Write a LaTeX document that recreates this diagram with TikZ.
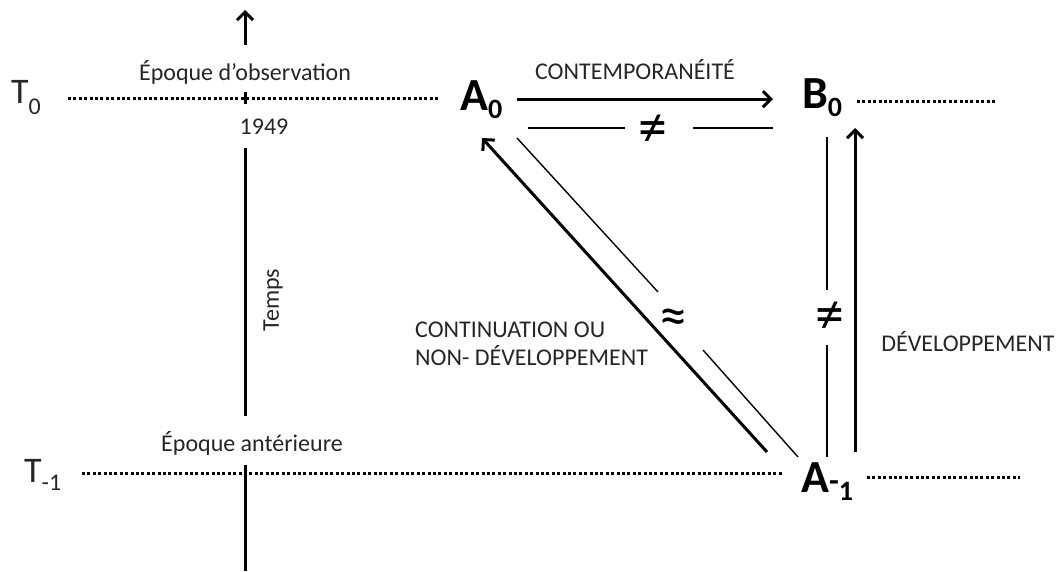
\documentclass[tikz,border=0pt]{standalone}
\usepackage{fontspec}
\setmainfont{Carlito}
\usetikzlibrary{arrows.meta}
\begin{document}
\begin{tikzpicture}[x=1pt,y=-1pt,
  lbl/.style={inner sep=0pt, font=\fontsize{24}{28}\selectfont, text=black!85},
  big/.style={inner sep=0pt, font=\fontsize{46}{48}\selectfont\bfseries},
  tlab/.style={inner sep=0pt, font=\fontsize{36}{38}\selectfont, text=black!85},
  tharrow/.style={line width=3pt, -{Straight Barb[length=8pt,width=16pt]}},
  axisline/.style={line width=3pt},
  thinline/.style={line width=1.4pt},
  dotline/.style={line width=3pt, dash pattern=on 3pt off 2.4pt},
  rel/.style={inner sep=0pt, font=\fontsize{58}{60}\selectfont},
]
\useasboundingbox (0,0) rectangle (1062,571);

% time labels
\node[tlab, anchor=base west] (T0) at (11,103) {T\raisebox{-11pt}{\fontsize{24}{26}\selectfont 0}};
\node[tlab, anchor=base west] (Tm1) at (24,482) {T\raisebox{-8pt}{\fontsize{24}{26}\selectfont -1}};

% main nodes
\node[big, anchor=base west] (A0) at (460,110) {A\raisebox{-8pt}{\fontsize{28}{30}\selectfont 0}};
\node[big, anchor=base west] (B0) at (802,108) {B\raisebox{-8pt}{\fontsize{28}{30}\selectfont 0}};
\node[big, anchor=base west] (Am1) at (801,492) {A{\fontsize{32}{34}\selectfont\raisebox{1pt}{-}}\raisebox{-8pt}{\fontsize{28}{30}\selectfont 1}};

% texts
\node[lbl] (obs) at (245,72) {Époque d’observation};
\node[lbl] (y1949) at (264,127) {1949};
\node[lbl, rotate=90] (temps) at (273,300) {Temps};
\node[lbl] (ant) at (252,443) {Époque antérieure};
\node[lbl] (contemp) at (635,70) {CONTEMPORANÉITÉ};
\node[lbl, align=left, anchor=west] (cont) at (415,344) {CONTINUATION OU\\NON- DÉVELOPPEMENT};
\node[lbl] (dev) at (968,342) {DÉVELOPPEMENT};

% relation symbols
\node[rel] (ne1) at (653,131) {≠};
\node[rel] (ne2) at (830,318) {≠};
\node[rel, font=\fontsize{56}{58}\selectfont] (approx) at (673,322) {≈};

% time axis
\coordinate (ax0) at (245,571);
\coordinate (ax1) at (245,465);
\coordinate (ax2) at (245,416);
\coordinate (ax3) at (245,148);
\coordinate (ax4) at (245,45);
\coordinate (ax5) at (245,10);
\coordinate (tk1) at (245,92);
\coordinate (tk2) at (245,104);
\draw[axisline] (ax0) -- (ax1);
\draw[axisline] (ax2) -- (ax3);
\draw[tharrow] (ax4) -- (ax5);
\draw[axisline] (tk1) -- (tk2);

% dotted time lines
\coordinate (d0a) at (68,98);
\coordinate (d0b) at (440,98);
\coordinate (d1a) at (857,101);
\coordinate (d1b) at (997,101);
\coordinate (d2a) at (82,473);
\coordinate (d2b) at (782,473);
\coordinate (d3a) at (867,477);
\coordinate (d3b) at (1020,477);
\draw[dotline] (d0a) -- (d0b);
\draw[dotline] (d1a) -- (d1b);
\draw[dotline] (d2a) -- (d2b);
\draw[dotline] (d3a) -- (d3b);

% contemporaneity arrow A0 -> B0
\draw[tharrow, shorten <=15pt, shorten >=29pt] (A0.east) -- (B0.west |- A0.east);

% thin "different" line below
\coordinate (n1a) at (528,128);
\coordinate (n1b) at (625,128);
\coordinate (n1c) at (693,128);
\coordinate (n1d) at (773,128);
\draw[thinline] (n1a) -- (n1b);
\draw[thinline] (n1c) -- (n1d);

% continuation arrow A-1 -> A0
\coordinate (cA) at (767,452);
\coordinate (cB) at (482,138);
\draw[tharrow] (cA) -- (cB);

% thin "approx" line
\coordinate (p1) at (517,138);
\coordinate (p2) at (658,292);
\coordinate (p3) at (703,350);
\coordinate (p4) at (798,457);
\draw[thinline] (p1) -- (p2);
\draw[thinline] (p3) -- (p4);

% thin "different" vertical line
\coordinate (v1) at (827,137);
\coordinate (v2) at (827,290);
\coordinate (v3) at (827,345);
\coordinate (v4) at (827,457);
\draw[thinline] (v1) -- (v2);
\draw[thinline] (v3) -- (v4);

% development arrow A-1 -> B0
\coordinate (dA) at (855,452);
\coordinate (dB) at (855,128);
\draw[tharrow] (dA) -- (dB);
\end{tikzpicture}
\end{document}
